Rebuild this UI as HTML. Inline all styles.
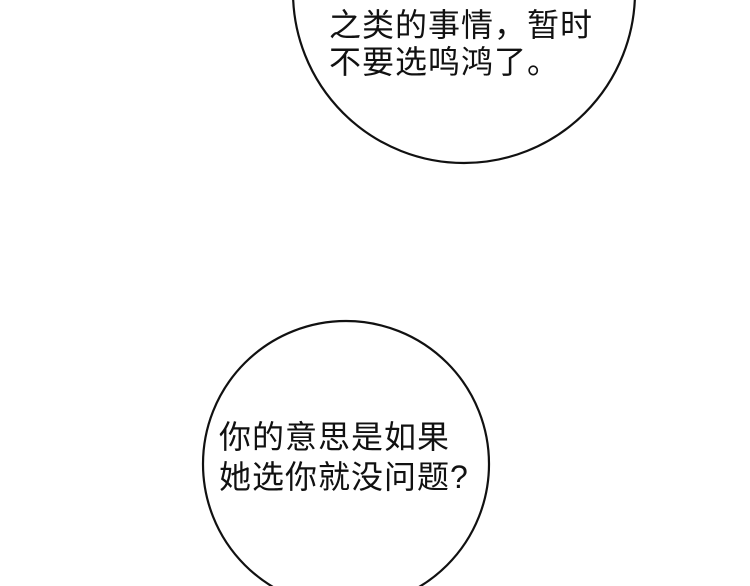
<!DOCTYPE html>
<html><head><meta charset="utf-8"><style>
html,body{margin:0;padding:0;background:#fff;}
body{width:750px;height:586px;position:relative;overflow:hidden;}
svg{position:absolute;left:0;top:0;}
.t{position:absolute;font-family:"Liberation Sans","Noto Sans CJK SC",sans-serif;font-size:32px;line-height:32px;letter-spacing:1px;color:#111;white-space:nowrap;}
</style></head><body>
<svg width="750" height="586" viewBox="0 0 750 586">
<circle cx="464" cy="-8" r="171" fill="#fff" stroke="#111" stroke-width="2.2"/>
<circle cx="346" cy="464" r="143" fill="#fff" stroke="#111" stroke-width="2.2"/>
</svg>
<div class="t" style="left:329px;top:9px">之类的事情，暂时</div>
<div class="t" style="left:329px;top:46px">不要选鸣鸿了。</div>
<div class="t" style="left:219px;top:421px">你的意思是如果</div>
<div class="t" style="left:219px;top:461px">她选你就没问题?</div>
</body></html>
